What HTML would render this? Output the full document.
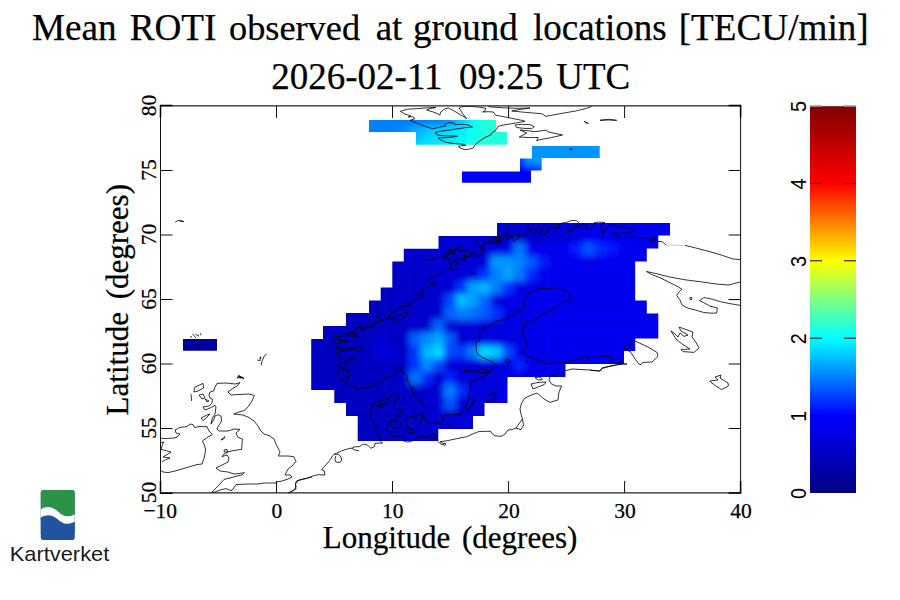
<!DOCTYPE html>
<html><head><meta charset="utf-8">
<style>
html,body{margin:0;padding:0;background:#fff;}
body{width:900px;height:600px;overflow:hidden;position:relative;font-family:"Liberation Serif",serif;}
svg{position:absolute;left:0;top:0;}
text{font-family:"Liberation Serif",serif;fill:#000;stroke:#000;stroke-width:0.25px;}
text.sans{font-family:"Liberation Sans",sans-serif;stroke:none;}
</style></head><body>
<svg width="900" height="600" viewBox="0 0 900 600">
<defs>
<linearGradient id="jet" x1="0" y1="1" x2="0" y2="0">
<stop offset="0" stop-color="#000083"/>
<stop offset="0.2" stop-color="#0000ff"/>
<stop offset="0.4" stop-color="#00ffff"/>
<stop offset="0.6" stop-color="#ffff00"/>
<stop offset="0.8" stop-color="#ff0000"/>
<stop offset="1" stop-color="#800000"/>
</linearGradient>
<clipPath id="mk"><path d="M311.2 339.0 L323.0 339.0 L323.0 326.0 L346.0 326.0 L346.0 313.0 L369.0 313.0 L369.0 300.5 L380.7 300.5 L380.7 287.5 L392.3 287.5 L392.3 261.5 L403.8 261.5 L403.8 248.7 L438.5 248.7 L438.5 236.0 L497.0 236.0 L497.0 223.0 L670.0 223.0 L670.0 235.5 L658.3 235.5 L658.3 248.5 L646.8 248.5 L646.8 261.5 L635.2 261.5 L635.2 300.5 L646.8 300.5 L646.8 313.5 L658.3 313.5 L658.3 338.5 L635.2 338.5 L635.2 351.0 L624.0 351.0 L624.0 364.0 L565.5 364.0 L565.5 377.0 L507.5 377.0 L507.5 403.0 L484.5 403.0 L484.5 416.0 L473.0 416.0 L473.0 429.0 L438.3 429.0 L438.3 441.0 L357.7 441.0 L357.7 416.0 L346.0 416.0 L346.0 403.0 L334.3 403.0 L334.3 390.0 L311.2 390.0Z M369.0 120.0 L496.0 120.0 L496.0 132.0 L507.0 132.0 L507.0 144.7 L416.0 144.7 L416.0 132.0 L369.0 132.0Z M532.0 146.0 L599.7 146.0 L599.7 158.0 L541.7 158.0 L541.7 170.5 L531.0 170.5 L531.0 182.8 L462.0 182.8 L462.0 171.5 L520.0 171.5 L520.0 158.5 L532.0 158.5Z M183.0 339.0 L217.0 339.0 L217.0 350.8 L183.0 350.8Z"/></clipPath>
<filter id="bl" x="-5%" y="-5%" width="110%" height="110%"><feGaussianBlur stdDeviation="3.0 3.3"/></filter>
</defs>
<rect width="900" height="600" fill="#fff"/>
<g id="title"><text x="32.0" y="40" font-size="37.2">Mean</text>
<text x="129.7" y="40" font-size="37.2">ROTI</text>
<text x="229.0" y="40" font-size="36.3">observed</text>
<text x="375.7" y="40" font-size="37">at</text>
<text x="413.0" y="40" font-size="37">ground</text>
<text x="533.0" y="40" font-size="37">locations</text>
<text x="678.7" y="40" font-size="37.2">[TECU/min]</text>
<text x="271.3" y="89" font-size="37">2026-02-11</text>
<text x="459.0" y="89" font-size="37">09:25</text>
<text x="556.3" y="89" font-size="37">UTC</text></g>
<g id="heat"><g clip-path="url(#mk)"><g filter="url(#bl)"><rect x="212.6" y="486.5" width="174.2" height="13.5" fill="#0000c1"/><rect x="386.2" y="486.5" width="12.2" height="13.5" fill="#0000c4"/><rect x="397.7" y="486.5" width="12.2" height="13.5" fill="#0000c7"/><rect x="409.3" y="486.5" width="12.2" height="13.5" fill="#0000ca"/><rect x="420.9" y="486.5" width="12.2" height="13.5" fill="#0000cd"/><rect x="432.4" y="486.5" width="12.2" height="13.5" fill="#0000d0"/><rect x="444.0" y="486.5" width="12.2" height="13.5" fill="#0000d3"/><rect x="455.6" y="486.5" width="12.2" height="13.5" fill="#0000d6"/><rect x="467.1" y="486.5" width="12.2" height="13.5" fill="#0000d9"/><rect x="478.7" y="486.5" width="12.2" height="13.5" fill="#0000dc"/><rect x="490.3" y="486.5" width="12.2" height="13.5" fill="#0000df"/><rect x="501.9" y="486.5" width="12.2" height="13.5" fill="#0000e2"/><rect x="513.4" y="486.5" width="12.2" height="13.5" fill="#0000e5"/><rect x="525.0" y="486.5" width="12.2" height="13.5" fill="#0000e8"/><rect x="536.6" y="486.5" width="12.2" height="13.5" fill="#0000eb"/><rect x="548.1" y="486.5" width="197.3" height="13.5" fill="#0000ee"/><rect x="212.6" y="473.7" width="174.2" height="13.5" fill="#0000c1"/><rect x="386.2" y="473.7" width="12.2" height="13.5" fill="#0000c4"/><rect x="397.7" y="473.7" width="12.2" height="13.5" fill="#0000c7"/><rect x="409.3" y="473.7" width="12.2" height="13.5" fill="#0000ca"/><rect x="420.9" y="473.7" width="12.2" height="13.5" fill="#0000cd"/><rect x="432.4" y="473.7" width="12.2" height="13.5" fill="#0000d0"/><rect x="444.0" y="473.7" width="12.2" height="13.5" fill="#0000d3"/><rect x="455.6" y="473.7" width="12.2" height="13.5" fill="#0000d6"/><rect x="467.1" y="473.7" width="12.2" height="13.5" fill="#0000d9"/><rect x="478.7" y="473.7" width="12.2" height="13.5" fill="#0000dc"/><rect x="490.3" y="473.7" width="12.2" height="13.5" fill="#0000df"/><rect x="501.9" y="473.7" width="12.2" height="13.5" fill="#0000e2"/><rect x="513.4" y="473.7" width="12.2" height="13.5" fill="#0000e5"/><rect x="525.0" y="473.7" width="12.2" height="13.5" fill="#0000e8"/><rect x="536.6" y="473.7" width="12.2" height="13.5" fill="#0000eb"/><rect x="548.1" y="473.7" width="197.3" height="13.5" fill="#0000ee"/><rect x="212.6" y="460.8" width="174.2" height="13.5" fill="#0000c1"/><rect x="386.2" y="460.8" width="12.2" height="13.5" fill="#0000c4"/><rect x="397.7" y="460.8" width="12.2" height="13.5" fill="#0000c7"/><rect x="409.3" y="460.8" width="12.2" height="13.5" fill="#0000ca"/><rect x="420.9" y="460.8" width="12.2" height="13.5" fill="#0000cd"/><rect x="432.4" y="460.8" width="12.2" height="13.5" fill="#0000d0"/><rect x="444.0" y="460.8" width="12.2" height="13.5" fill="#0000d3"/><rect x="455.6" y="460.8" width="12.2" height="13.5" fill="#0000d6"/><rect x="467.1" y="460.8" width="12.2" height="13.5" fill="#0000d9"/><rect x="478.7" y="460.8" width="12.2" height="13.5" fill="#0000dc"/><rect x="490.3" y="460.8" width="12.2" height="13.5" fill="#0000df"/><rect x="501.9" y="460.8" width="12.2" height="13.5" fill="#0000e2"/><rect x="513.4" y="460.8" width="12.2" height="13.5" fill="#0000e5"/><rect x="525.0" y="460.8" width="12.2" height="13.5" fill="#0000e8"/><rect x="536.6" y="460.8" width="12.2" height="13.5" fill="#0000eb"/><rect x="548.1" y="460.8" width="197.3" height="13.5" fill="#0000ee"/><rect x="212.6" y="447.9" width="174.2" height="13.5" fill="#0000c1"/><rect x="386.2" y="447.9" width="12.2" height="13.5" fill="#0000c4"/><rect x="397.7" y="447.9" width="12.2" height="13.5" fill="#0000c7"/><rect x="409.3" y="447.9" width="12.2" height="13.5" fill="#0000ca"/><rect x="420.9" y="447.9" width="12.2" height="13.5" fill="#0000cd"/><rect x="432.4" y="447.9" width="12.2" height="13.5" fill="#0000d0"/><rect x="444.0" y="447.9" width="12.2" height="13.5" fill="#0000d3"/><rect x="455.6" y="447.9" width="12.2" height="13.5" fill="#0000d6"/><rect x="467.1" y="447.9" width="12.2" height="13.5" fill="#0000d9"/><rect x="478.7" y="447.9" width="12.2" height="13.5" fill="#0000dc"/><rect x="490.3" y="447.9" width="12.2" height="13.5" fill="#0000df"/><rect x="501.9" y="447.9" width="12.2" height="13.5" fill="#0000e2"/><rect x="513.4" y="447.9" width="12.2" height="13.5" fill="#0000e5"/><rect x="525.0" y="447.9" width="12.2" height="13.5" fill="#0000e8"/><rect x="536.6" y="447.9" width="12.2" height="13.5" fill="#0000eb"/><rect x="548.1" y="447.9" width="197.3" height="13.5" fill="#0000ee"/><rect x="212.6" y="435.1" width="174.2" height="13.5" fill="#0000c1"/><rect x="386.2" y="435.1" width="12.2" height="13.5" fill="#0000c4"/><rect x="397.7" y="435.1" width="12.2" height="13.5" fill="#0000c7"/><rect x="409.3" y="435.1" width="12.2" height="13.5" fill="#0000ca"/><rect x="420.9" y="435.1" width="12.2" height="13.5" fill="#0000cd"/><rect x="432.4" y="435.1" width="12.2" height="13.5" fill="#0000d0"/><rect x="444.0" y="435.1" width="12.2" height="13.5" fill="#0000d3"/><rect x="455.6" y="435.1" width="12.2" height="13.5" fill="#0000d6"/><rect x="467.1" y="435.1" width="12.2" height="13.5" fill="#0000d9"/><rect x="478.7" y="435.1" width="12.2" height="13.5" fill="#0000dc"/><rect x="490.3" y="435.1" width="12.2" height="13.5" fill="#0000df"/><rect x="501.9" y="435.1" width="12.2" height="13.5" fill="#0000e2"/><rect x="513.4" y="435.1" width="12.2" height="13.5" fill="#0000e5"/><rect x="525.0" y="435.1" width="12.2" height="13.5" fill="#0000e8"/><rect x="536.6" y="435.1" width="12.2" height="13.5" fill="#0000eb"/><rect x="548.1" y="435.1" width="197.3" height="13.5" fill="#0000ee"/><rect x="154.8" y="422.2" width="70.0" height="13.5" fill="#00009e"/><rect x="224.2" y="422.2" width="162.6" height="13.5" fill="#0000c1"/><rect x="386.2" y="422.2" width="12.2" height="13.5" fill="#0000c4"/><rect x="397.7" y="422.2" width="12.2" height="13.5" fill="#0000c7"/><rect x="409.3" y="422.2" width="12.2" height="13.5" fill="#0000ca"/><rect x="420.9" y="422.2" width="12.2" height="13.5" fill="#0000cd"/><rect x="432.4" y="422.2" width="12.2" height="13.5" fill="#0000d0"/><rect x="444.0" y="422.2" width="12.2" height="13.5" fill="#0000d3"/><rect x="455.6" y="422.2" width="12.2" height="13.5" fill="#0000d6"/><rect x="467.1" y="422.2" width="12.2" height="13.5" fill="#0000d9"/><rect x="478.7" y="422.2" width="12.2" height="13.5" fill="#0000dc"/><rect x="490.3" y="422.2" width="12.2" height="13.5" fill="#0000df"/><rect x="501.9" y="422.2" width="12.2" height="13.5" fill="#0000e2"/><rect x="513.4" y="422.2" width="12.2" height="13.5" fill="#0000e5"/><rect x="525.0" y="422.2" width="12.2" height="13.5" fill="#0000e8"/><rect x="536.6" y="422.2" width="12.2" height="13.5" fill="#0000eb"/><rect x="548.1" y="422.2" width="197.3" height="13.5" fill="#0000ee"/><rect x="154.8" y="409.3" width="81.6" height="13.5" fill="#00009e"/><rect x="235.7" y="409.3" width="151.0" height="13.5" fill="#0000c1"/><rect x="386.2" y="409.3" width="12.2" height="13.5" fill="#0000c4"/><rect x="397.7" y="409.3" width="12.2" height="13.5" fill="#0000c7"/><rect x="409.3" y="409.3" width="12.2" height="13.5" fill="#0000ca"/><rect x="420.9" y="409.3" width="12.2" height="13.5" fill="#0000cd"/><rect x="432.4" y="409.3" width="12.2" height="13.5" fill="#0000d0"/><rect x="444.0" y="409.3" width="12.2" height="13.5" fill="#0000d3"/><rect x="455.6" y="409.3" width="12.2" height="13.5" fill="#0000d6"/><rect x="467.1" y="409.3" width="12.2" height="13.5" fill="#0000d9"/><rect x="478.7" y="409.3" width="12.2" height="13.5" fill="#0000dc"/><rect x="490.3" y="409.3" width="12.2" height="13.5" fill="#0000df"/><rect x="501.9" y="409.3" width="12.2" height="13.5" fill="#0000e2"/><rect x="513.4" y="409.3" width="12.2" height="13.5" fill="#0000e5"/><rect x="525.0" y="409.3" width="12.2" height="13.5" fill="#0000e8"/><rect x="536.6" y="409.3" width="12.2" height="13.5" fill="#0000eb"/><rect x="548.1" y="409.3" width="197.3" height="13.5" fill="#0000ee"/><rect x="154.8" y="396.4" width="81.6" height="13.5" fill="#00009e"/><rect x="235.7" y="396.4" width="151.0" height="13.5" fill="#0000c1"/><rect x="386.2" y="396.4" width="12.2" height="13.5" fill="#0000c4"/><rect x="397.7" y="396.4" width="12.2" height="13.5" fill="#0000c7"/><rect x="409.3" y="396.4" width="12.2" height="13.5" fill="#0000ca"/><rect x="420.9" y="396.4" width="12.2" height="13.5" fill="#0000cd"/><rect x="432.4" y="396.4" width="12.2" height="13.5" fill="#0000d0"/><rect x="444.0" y="396.4" width="12.2" height="13.5" fill="#0054ff"/><rect x="455.6" y="396.4" width="12.2" height="13.5" fill="#0000d6"/><rect x="467.1" y="396.4" width="12.2" height="13.5" fill="#0000d9"/><rect x="478.7" y="396.4" width="12.2" height="13.5" fill="#0000dc"/><rect x="490.3" y="396.4" width="12.2" height="13.5" fill="#0000df"/><rect x="501.9" y="396.4" width="12.2" height="13.5" fill="#0000e2"/><rect x="513.4" y="396.4" width="12.2" height="13.5" fill="#0000e5"/><rect x="525.0" y="396.4" width="12.2" height="13.5" fill="#0000e8"/><rect x="536.6" y="396.4" width="12.2" height="13.5" fill="#0000eb"/><rect x="548.1" y="396.4" width="197.3" height="13.5" fill="#0000ee"/><rect x="154.8" y="383.6" width="93.2" height="13.5" fill="#00009e"/><rect x="247.3" y="383.6" width="139.4" height="13.5" fill="#0000c1"/><rect x="386.2" y="383.6" width="12.2" height="13.5" fill="#0000c4"/><rect x="397.7" y="383.6" width="12.2" height="13.5" fill="#0000c7"/><rect x="409.3" y="383.6" width="12.2" height="13.5" fill="#0000ca"/><rect x="420.9" y="383.6" width="12.2" height="13.5" fill="#0000cd"/><rect x="432.4" y="383.6" width="12.2" height="13.5" fill="#0000d0"/><rect x="444.0" y="383.6" width="12.2" height="13.5" fill="#007eff"/><rect x="455.6" y="383.6" width="12.2" height="13.5" fill="#002aff"/><rect x="467.1" y="383.6" width="12.2" height="13.5" fill="#0000d9"/><rect x="478.7" y="383.6" width="12.2" height="13.5" fill="#0000dc"/><rect x="490.3" y="383.6" width="12.2" height="13.5" fill="#0000df"/><rect x="501.9" y="383.6" width="12.2" height="13.5" fill="#0000e2"/><rect x="513.4" y="383.6" width="12.2" height="13.5" fill="#0000e5"/><rect x="525.0" y="383.6" width="12.2" height="13.5" fill="#0000e8"/><rect x="536.6" y="383.6" width="12.2" height="13.5" fill="#0000eb"/><rect x="548.1" y="383.6" width="197.3" height="13.5" fill="#0000ee"/><rect x="154.8" y="370.7" width="93.2" height="13.5" fill="#00009e"/><rect x="247.3" y="370.7" width="139.4" height="13.5" fill="#0000c1"/><rect x="386.2" y="370.7" width="12.2" height="13.5" fill="#0000c4"/><rect x="397.7" y="370.7" width="12.2" height="13.5" fill="#0000c7"/><rect x="409.3" y="370.7" width="12.2" height="13.5" fill="#0072ff"/><rect x="420.9" y="370.7" width="12.2" height="13.5" fill="#002aff"/><rect x="432.4" y="370.7" width="12.2" height="13.5" fill="#0000d0"/><rect x="444.0" y="370.7" width="12.2" height="13.5" fill="#0024ff"/><rect x="455.6" y="370.7" width="12.2" height="13.5" fill="#0000d6"/><rect x="467.1" y="370.7" width="12.2" height="13.5" fill="#0000d9"/><rect x="478.7" y="370.7" width="12.2" height="13.5" fill="#0000dc"/><rect x="490.3" y="370.7" width="12.2" height="13.5" fill="#0000df"/><rect x="501.9" y="370.7" width="12.2" height="13.5" fill="#0000e2"/><rect x="513.4" y="370.7" width="12.2" height="13.5" fill="#0000e5"/><rect x="525.0" y="370.7" width="12.2" height="13.5" fill="#0000e8"/><rect x="536.6" y="370.7" width="12.2" height="13.5" fill="#0000eb"/><rect x="548.1" y="370.7" width="197.3" height="13.5" fill="#0000ee"/><rect x="154.8" y="357.8" width="104.7" height="13.5" fill="#00009e"/><rect x="258.9" y="357.8" width="127.9" height="13.5" fill="#0000c1"/><rect x="386.2" y="357.8" width="12.2" height="13.5" fill="#0000c4"/><rect x="397.7" y="357.8" width="12.2" height="13.5" fill="#0000c7"/><rect x="409.3" y="357.8" width="12.2" height="13.5" fill="#0036ff"/><rect x="420.9" y="357.8" width="12.2" height="13.5" fill="#008aff"/><rect x="432.4" y="357.8" width="12.2" height="13.5" fill="#0048ff"/><rect x="444.0" y="357.8" width="12.2" height="13.5" fill="#0000d3"/><rect x="455.6" y="357.8" width="12.2" height="13.5" fill="#0000d6"/><rect x="467.1" y="357.8" width="12.2" height="13.5" fill="#0000d9"/><rect x="478.7" y="357.8" width="12.2" height="13.5" fill="#0000dc"/><rect x="490.3" y="357.8" width="12.2" height="13.5" fill="#0000df"/><rect x="501.9" y="357.8" width="12.2" height="13.5" fill="#0000e2"/><rect x="513.4" y="357.8" width="12.2" height="13.5" fill="#0024ff"/><rect x="525.0" y="357.8" width="12.2" height="13.5" fill="#0000e8"/><rect x="536.6" y="357.8" width="12.2" height="13.5" fill="#0000eb"/><rect x="548.1" y="357.8" width="197.3" height="13.5" fill="#0000ee"/><rect x="154.8" y="345.0" width="104.7" height="13.5" fill="#00009e"/><rect x="258.9" y="345.0" width="116.3" height="13.5" fill="#0000c1"/><rect x="374.6" y="345.0" width="12.2" height="13.5" fill="#0000dc"/><rect x="386.2" y="345.0" width="12.2" height="13.5" fill="#0000d5"/><rect x="397.7" y="345.0" width="12.2" height="13.5" fill="#0000c7"/><rect x="409.3" y="345.0" width="12.2" height="13.5" fill="#0036ff"/><rect x="420.9" y="345.0" width="12.2" height="13.5" fill="#00b4ff"/><rect x="432.4" y="345.0" width="12.2" height="13.5" fill="#00d8ff"/><rect x="444.0" y="345.0" width="12.2" height="13.5" fill="#0048ff"/><rect x="455.6" y="345.0" width="12.2" height="13.5" fill="#003cff"/><rect x="467.1" y="345.0" width="12.2" height="13.5" fill="#0078ff"/><rect x="478.7" y="345.0" width="12.2" height="13.5" fill="#00deff"/><rect x="490.3" y="345.0" width="12.2" height="13.5" fill="#00c6ff"/><rect x="501.9" y="345.0" width="12.2" height="13.5" fill="#0048ff"/><rect x="513.4" y="345.0" width="12.2" height="13.5" fill="#0000e5"/><rect x="525.0" y="345.0" width="12.2" height="13.5" fill="#0000e8"/><rect x="536.6" y="345.0" width="12.2" height="13.5" fill="#0000eb"/><rect x="548.1" y="345.0" width="197.3" height="13.5" fill="#0000ee"/><rect x="154.8" y="332.1" width="104.7" height="13.5" fill="#00009e"/><rect x="258.9" y="332.1" width="116.3" height="13.5" fill="#0000c1"/><rect x="374.6" y="332.1" width="12.2" height="13.5" fill="#0000d5"/><rect x="386.2" y="332.1" width="12.2" height="13.5" fill="#0000c4"/><rect x="397.7" y="332.1" width="12.2" height="13.5" fill="#0000c7"/><rect x="409.3" y="332.1" width="12.2" height="13.5" fill="#0060ff"/><rect x="420.9" y="332.1" width="12.2" height="13.5" fill="#008aff"/><rect x="432.4" y="332.1" width="12.2" height="13.5" fill="#00a8ff"/><rect x="444.0" y="332.1" width="12.2" height="13.5" fill="#005aff"/><rect x="455.6" y="332.1" width="12.2" height="13.5" fill="#0000d6"/><rect x="467.1" y="332.1" width="12.2" height="13.5" fill="#0000d9"/><rect x="478.7" y="332.1" width="12.2" height="13.5" fill="#0000dc"/><rect x="490.3" y="332.1" width="12.2" height="13.5" fill="#0000df"/><rect x="501.9" y="332.1" width="12.2" height="13.5" fill="#0000e2"/><rect x="513.4" y="332.1" width="12.2" height="13.5" fill="#0000e5"/><rect x="525.0" y="332.1" width="12.2" height="13.5" fill="#0000e8"/><rect x="536.6" y="332.1" width="12.2" height="13.5" fill="#0000eb"/><rect x="548.1" y="332.1" width="197.3" height="13.5" fill="#0000ee"/><rect x="154.8" y="319.2" width="104.7" height="13.5" fill="#00009e"/><rect x="258.9" y="319.2" width="127.9" height="13.5" fill="#0000c1"/><rect x="386.2" y="319.2" width="12.2" height="13.5" fill="#0000c4"/><rect x="397.7" y="319.2" width="12.2" height="13.5" fill="#0000c7"/><rect x="409.3" y="319.2" width="12.2" height="13.5" fill="#0000ca"/><rect x="420.9" y="319.2" width="12.2" height="13.5" fill="#0000cd"/><rect x="432.4" y="319.2" width="12.2" height="13.5" fill="#0066ff"/><rect x="444.0" y="319.2" width="12.2" height="13.5" fill="#0000d3"/><rect x="455.6" y="319.2" width="12.2" height="13.5" fill="#0000d6"/><rect x="467.1" y="319.2" width="12.2" height="13.5" fill="#0000d9"/><rect x="478.7" y="319.2" width="12.2" height="13.5" fill="#0000dc"/><rect x="490.3" y="319.2" width="12.2" height="13.5" fill="#0000df"/><rect x="501.9" y="319.2" width="12.2" height="13.5" fill="#0000e2"/><rect x="513.4" y="319.2" width="12.2" height="13.5" fill="#0000e5"/><rect x="525.0" y="319.2" width="12.2" height="13.5" fill="#0000e8"/><rect x="536.6" y="319.2" width="12.2" height="13.5" fill="#0000eb"/><rect x="548.1" y="319.2" width="197.3" height="13.5" fill="#0000ee"/><rect x="154.8" y="306.4" width="93.2" height="13.5" fill="#00009e"/><rect x="247.3" y="306.4" width="139.4" height="13.5" fill="#0000c1"/><rect x="386.2" y="306.4" width="12.2" height="13.5" fill="#0000c4"/><rect x="397.7" y="306.4" width="12.2" height="13.5" fill="#0000c7"/><rect x="409.3" y="306.4" width="12.2" height="13.5" fill="#0000ca"/><rect x="420.9" y="306.4" width="12.2" height="13.5" fill="#0000cd"/><rect x="432.4" y="306.4" width="12.2" height="13.5" fill="#0000d0"/><rect x="444.0" y="306.4" width="12.2" height="13.5" fill="#0060ff"/><rect x="455.6" y="306.4" width="12.2" height="13.5" fill="#007eff"/><rect x="467.1" y="306.4" width="12.2" height="13.5" fill="#0072ff"/><rect x="478.7" y="306.4" width="12.2" height="13.5" fill="#005aff"/><rect x="490.3" y="306.4" width="12.2" height="13.5" fill="#0030ff"/><rect x="501.9" y="306.4" width="12.2" height="13.5" fill="#0000e2"/><rect x="513.4" y="306.4" width="12.2" height="13.5" fill="#0000e5"/><rect x="525.0" y="306.4" width="12.2" height="13.5" fill="#0000e8"/><rect x="536.6" y="306.4" width="12.2" height="13.5" fill="#0000eb"/><rect x="548.1" y="306.4" width="197.3" height="13.5" fill="#0000ee"/><rect x="154.8" y="293.5" width="93.2" height="13.5" fill="#00009e"/><rect x="247.3" y="293.5" width="139.4" height="13.5" fill="#0000c1"/><rect x="386.2" y="293.5" width="12.2" height="13.5" fill="#0000c4"/><rect x="397.7" y="293.5" width="12.2" height="13.5" fill="#0000c7"/><rect x="409.3" y="293.5" width="12.2" height="13.5" fill="#0000ca"/><rect x="420.9" y="293.5" width="12.2" height="13.5" fill="#0000cd"/><rect x="432.4" y="293.5" width="12.2" height="13.5" fill="#0000d0"/><rect x="444.0" y="293.5" width="12.2" height="13.5" fill="#0042ff"/><rect x="455.6" y="293.5" width="12.2" height="13.5" fill="#00c0ff"/><rect x="467.1" y="293.5" width="12.2" height="13.5" fill="#009cff"/><rect x="478.7" y="293.5" width="12.2" height="13.5" fill="#0066ff"/><rect x="490.3" y="293.5" width="12.2" height="13.5" fill="#0000df"/><rect x="501.9" y="293.5" width="12.2" height="13.5" fill="#0000e2"/><rect x="513.4" y="293.5" width="12.2" height="13.5" fill="#0000e5"/><rect x="525.0" y="293.5" width="12.2" height="13.5" fill="#0000e8"/><rect x="536.6" y="293.5" width="12.2" height="13.5" fill="#0000eb"/><rect x="548.1" y="293.5" width="197.3" height="13.5" fill="#0000ee"/><rect x="154.8" y="280.6" width="81.6" height="13.5" fill="#00009e"/><rect x="235.7" y="280.6" width="151.0" height="13.5" fill="#0000c1"/><rect x="386.2" y="280.6" width="12.2" height="13.5" fill="#0000c4"/><rect x="397.7" y="280.6" width="12.2" height="13.5" fill="#0000c7"/><rect x="409.3" y="280.6" width="12.2" height="13.5" fill="#0000ca"/><rect x="420.9" y="280.6" width="12.2" height="13.5" fill="#0000cd"/><rect x="432.4" y="280.6" width="12.2" height="13.5" fill="#0000d0"/><rect x="444.0" y="280.6" width="12.2" height="13.5" fill="#0000d3"/><rect x="455.6" y="280.6" width="12.2" height="13.5" fill="#0030ff"/><rect x="467.1" y="280.6" width="12.2" height="13.5" fill="#00a2ff"/><rect x="478.7" y="280.6" width="12.2" height="13.5" fill="#00b4ff"/><rect x="490.3" y="280.6" width="12.2" height="13.5" fill="#007eff"/><rect x="501.9" y="280.6" width="12.2" height="13.5" fill="#0030ff"/><rect x="513.4" y="280.6" width="12.2" height="13.5" fill="#0000e5"/><rect x="525.0" y="280.6" width="12.2" height="13.5" fill="#0000e8"/><rect x="536.6" y="280.6" width="12.2" height="13.5" fill="#0000eb"/><rect x="548.1" y="280.6" width="197.3" height="13.5" fill="#0000ee"/><rect x="154.8" y="267.7" width="81.6" height="13.5" fill="#00009e"/><rect x="235.7" y="267.7" width="151.0" height="13.5" fill="#0000c3"/><rect x="386.2" y="267.7" width="12.2" height="13.5" fill="#0000c6"/><rect x="397.7" y="267.7" width="12.2" height="13.5" fill="#0000c8"/><rect x="409.3" y="267.7" width="12.2" height="13.5" fill="#0000cb"/><rect x="420.9" y="267.7" width="12.2" height="13.5" fill="#0000ce"/><rect x="432.4" y="267.7" width="12.2" height="13.5" fill="#0000d1"/><rect x="444.0" y="267.7" width="12.2" height="13.5" fill="#0000d3"/><rect x="455.6" y="267.7" width="12.2" height="13.5" fill="#0000d6"/><rect x="467.1" y="267.7" width="12.2" height="13.5" fill="#0000d9"/><rect x="478.7" y="267.7" width="12.2" height="13.5" fill="#0036ff"/><rect x="490.3" y="267.7" width="12.2" height="13.5" fill="#007eff"/><rect x="501.9" y="267.7" width="12.2" height="13.5" fill="#00a2ff"/><rect x="513.4" y="267.7" width="12.2" height="13.5" fill="#0078ff"/><rect x="525.0" y="267.7" width="12.2" height="13.5" fill="#002aff"/><rect x="536.6" y="267.7" width="12.2" height="13.5" fill="#0000eb"/><rect x="548.1" y="267.7" width="197.3" height="13.5" fill="#0000ee"/><rect x="154.8" y="254.9" width="70.0" height="13.5" fill="#00009e"/><rect x="224.2" y="254.9" width="162.6" height="13.5" fill="#0000c4"/><rect x="386.2" y="254.9" width="12.2" height="13.5" fill="#0000c7"/><rect x="397.7" y="254.9" width="12.2" height="13.5" fill="#0000ca"/><rect x="409.3" y="254.9" width="12.2" height="13.5" fill="#0000cc"/><rect x="420.9" y="254.9" width="12.2" height="13.5" fill="#0000cf"/><rect x="432.4" y="254.9" width="12.2" height="13.5" fill="#0000d1"/><rect x="444.0" y="254.9" width="12.2" height="13.5" fill="#0000d4"/><rect x="455.6" y="254.9" width="12.2" height="13.5" fill="#0000d7"/><rect x="467.1" y="254.9" width="12.2" height="13.5" fill="#0000d9"/><rect x="478.7" y="254.9" width="12.2" height="13.5" fill="#0000dc"/><rect x="490.3" y="254.9" width="23.7" height="13.5" fill="#0096ff"/><rect x="513.4" y="254.9" width="12.2" height="13.5" fill="#0084ff"/><rect x="525.0" y="254.9" width="12.2" height="13.5" fill="#005aff"/><rect x="536.6" y="254.9" width="12.2" height="13.5" fill="#001eff"/><rect x="548.1" y="254.9" width="197.3" height="13.5" fill="#0000ee"/><rect x="212.6" y="242.0" width="174.2" height="13.5" fill="#0000c6"/><rect x="386.2" y="242.0" width="12.2" height="13.5" fill="#0000c9"/><rect x="397.7" y="242.0" width="12.2" height="13.5" fill="#0000cb"/><rect x="409.3" y="242.0" width="12.2" height="13.5" fill="#0000cd"/><rect x="420.9" y="242.0" width="12.2" height="13.5" fill="#0000d0"/><rect x="432.4" y="242.0" width="12.2" height="13.5" fill="#0000d2"/><rect x="444.0" y="242.0" width="12.2" height="13.5" fill="#0000d5"/><rect x="455.6" y="242.0" width="12.2" height="13.5" fill="#0000d7"/><rect x="467.1" y="242.0" width="12.2" height="13.5" fill="#0000d9"/><rect x="478.7" y="242.0" width="12.2" height="13.5" fill="#0000dc"/><rect x="490.3" y="242.0" width="12.2" height="13.5" fill="#0000df"/><rect x="501.9" y="242.0" width="12.2" height="13.5" fill="#0000e2"/><rect x="513.4" y="242.0" width="12.2" height="13.5" fill="#0078ff"/><rect x="525.0" y="242.0" width="12.2" height="13.5" fill="#0000e8"/><rect x="536.6" y="242.0" width="12.2" height="13.5" fill="#0000eb"/><rect x="548.1" y="242.0" width="23.7" height="13.5" fill="#0000ee"/><rect x="571.3" y="242.0" width="12.2" height="13.5" fill="#001eff"/><rect x="582.8" y="242.0" width="12.2" height="13.5" fill="#0054ff"/><rect x="594.4" y="242.0" width="12.2" height="13.5" fill="#002aff"/><rect x="606.0" y="242.0" width="12.2" height="13.5" fill="#0018ff"/><rect x="617.6" y="242.0" width="127.9" height="13.5" fill="#0000ee"/><rect x="212.6" y="229.1" width="174.2" height="13.5" fill="#0000c7"/><rect x="386.2" y="229.1" width="12.2" height="13.5" fill="#0000ca"/><rect x="397.7" y="229.1" width="12.2" height="13.5" fill="#0000cc"/><rect x="409.3" y="229.1" width="151.0" height="13.5" fill="#0000cd"/><rect x="559.7" y="229.1" width="23.7" height="13.5" fill="#0000da"/><rect x="582.8" y="229.1" width="162.6" height="13.5" fill="#0000ee"/><rect x="212.6" y="216.3" width="174.2" height="13.5" fill="#0000c7"/><rect x="386.2" y="216.3" width="12.2" height="13.5" fill="#0000ca"/><rect x="397.7" y="216.3" width="12.2" height="13.5" fill="#0000cc"/><rect x="409.3" y="216.3" width="151.0" height="13.5" fill="#0000cd"/><rect x="559.7" y="216.3" width="23.7" height="13.5" fill="#0000da"/><rect x="582.8" y="216.3" width="162.6" height="13.5" fill="#0000ee"/><rect x="212.6" y="203.4" width="174.2" height="13.5" fill="#0000c7"/><rect x="386.2" y="203.4" width="12.2" height="13.5" fill="#0000ca"/><rect x="397.7" y="203.4" width="12.2" height="13.5" fill="#0000cc"/><rect x="409.3" y="203.4" width="151.0" height="13.5" fill="#0000cd"/><rect x="559.7" y="203.4" width="23.7" height="13.5" fill="#0000da"/><rect x="582.8" y="203.4" width="162.6" height="13.5" fill="#0000ee"/><rect x="212.6" y="190.5" width="174.2" height="13.5" fill="#0000c7"/><rect x="386.2" y="190.5" width="12.2" height="13.5" fill="#0000ca"/><rect x="397.7" y="190.5" width="12.2" height="13.5" fill="#0000cc"/><rect x="409.3" y="190.5" width="23.7" height="13.5" fill="#0000cd"/><rect x="432.4" y="190.5" width="116.3" height="13.5" fill="#0000ff"/><rect x="548.1" y="190.5" width="12.2" height="13.5" fill="#0000cd"/><rect x="559.7" y="190.5" width="23.7" height="13.5" fill="#0000da"/><rect x="582.8" y="190.5" width="162.6" height="13.5" fill="#0000ee"/><rect x="212.6" y="177.7" width="174.2" height="13.5" fill="#0000c7"/><rect x="386.2" y="177.7" width="12.2" height="13.5" fill="#0000ca"/><rect x="397.7" y="177.7" width="12.2" height="13.5" fill="#0000cc"/><rect x="409.3" y="177.7" width="12.2" height="13.5" fill="#0000cd"/><rect x="420.9" y="177.7" width="116.3" height="13.5" fill="#0000ff"/><rect x="536.6" y="177.7" width="23.7" height="13.5" fill="#001aff"/><rect x="559.7" y="177.7" width="81.6" height="13.5" fill="#0080ff"/><rect x="640.7" y="177.7" width="104.7" height="13.5" fill="#0000ee"/><rect x="212.6" y="164.8" width="127.9" height="13.5" fill="#0000c7"/><rect x="339.9" y="164.8" width="46.9" height="13.5" fill="#0099ff"/><rect x="386.2" y="164.8" width="12.2" height="13.5" fill="#00b2ff"/><rect x="397.7" y="164.8" width="12.2" height="13.5" fill="#00c7ff"/><rect x="409.3" y="164.8" width="12.2" height="13.5" fill="#00d9ff"/><rect x="420.9" y="164.8" width="116.3" height="13.5" fill="#0000ff"/><rect x="536.6" y="164.8" width="12.2" height="13.5" fill="#004dff"/><rect x="548.1" y="164.8" width="12.2" height="13.5" fill="#0073ff"/><rect x="559.7" y="164.8" width="104.7" height="13.5" fill="#0080ff"/><rect x="663.8" y="164.8" width="81.6" height="13.5" fill="#0000ee"/><rect x="224.2" y="151.9" width="93.2" height="13.5" fill="#0000c7"/><rect x="316.7" y="151.9" width="70.0" height="13.5" fill="#0099ff"/><rect x="386.2" y="151.9" width="12.2" height="13.5" fill="#00b2ff"/><rect x="397.7" y="151.9" width="12.2" height="13.5" fill="#00c7ff"/><rect x="409.3" y="151.9" width="12.2" height="13.5" fill="#00d9ff"/><rect x="420.9" y="151.9" width="12.2" height="13.5" fill="#00e5ff"/><rect x="432.4" y="151.9" width="81.6" height="13.5" fill="#0000ff"/><rect x="513.4" y="151.9" width="12.2" height="13.5" fill="#0033ff"/><rect x="525.0" y="151.9" width="151.0" height="13.5" fill="#0094ff"/><rect x="675.4" y="151.9" width="70.0" height="13.5" fill="#0000ee"/><rect x="235.7" y="139.0" width="70.0" height="13.5" fill="#0000c7"/><rect x="305.2" y="139.0" width="81.6" height="13.5" fill="#0099ff"/><rect x="386.2" y="139.0" width="12.2" height="13.5" fill="#00b2ff"/><rect x="397.7" y="139.0" width="12.2" height="13.5" fill="#00c7ff"/><rect x="409.3" y="139.0" width="12.2" height="13.5" fill="#00d9ff"/><rect x="420.9" y="139.0" width="12.2" height="13.5" fill="#00e5ff"/><rect x="432.4" y="139.0" width="12.2" height="13.5" fill="#00ebff"/><rect x="444.0" y="139.0" width="12.2" height="13.5" fill="#00f2ff"/><rect x="455.6" y="139.0" width="12.2" height="13.5" fill="#00ffff"/><rect x="467.1" y="139.0" width="12.2" height="13.5" fill="#14ffeb"/><rect x="478.7" y="139.0" width="46.9" height="13.5" fill="#21ffde"/><rect x="525.0" y="139.0" width="162.6" height="13.5" fill="#0094ff"/><rect x="687.0" y="139.0" width="58.5" height="13.5" fill="#0000ee"/><rect x="247.3" y="126.2" width="46.9" height="13.5" fill="#0000c7"/><rect x="293.6" y="126.2" width="104.7" height="13.5" fill="#0080ff"/><rect x="397.7" y="126.2" width="12.2" height="13.5" fill="#008cff"/><rect x="409.3" y="126.2" width="12.2" height="13.5" fill="#00b2ff"/><rect x="420.9" y="126.2" width="12.2" height="13.5" fill="#00ccff"/><rect x="432.4" y="126.2" width="12.2" height="13.5" fill="#00d9ff"/><rect x="444.0" y="126.2" width="12.2" height="13.5" fill="#00e5ff"/><rect x="455.6" y="126.2" width="12.2" height="13.5" fill="#00f2ff"/><rect x="467.1" y="126.2" width="12.2" height="13.5" fill="#0dfff2"/><rect x="478.7" y="126.2" width="46.9" height="13.5" fill="#21ffde"/><rect x="525.0" y="126.2" width="174.1" height="13.5" fill="#0094ff"/><rect x="698.5" y="126.2" width="35.3" height="13.5" fill="#0000ee"/><rect x="282.0" y="113.3" width="151.0" height="13.5" fill="#0080ff"/><rect x="432.4" y="113.3" width="12.2" height="13.5" fill="#0085ff"/><rect x="444.0" y="113.3" width="12.2" height="13.5" fill="#0099ff"/><rect x="455.6" y="113.3" width="12.2" height="13.5" fill="#00ccff"/><rect x="467.1" y="113.3" width="12.2" height="13.5" fill="#00ffff"/><rect x="478.7" y="113.3" width="58.5" height="13.5" fill="#21ffde"/><rect x="536.6" y="113.3" width="162.6" height="13.5" fill="#0094ff"/><rect x="282.0" y="100.4" width="151.0" height="13.5" fill="#0080ff"/><rect x="432.4" y="100.4" width="12.2" height="13.5" fill="#0085ff"/><rect x="444.0" y="100.4" width="12.2" height="13.5" fill="#0099ff"/><rect x="455.6" y="100.4" width="12.2" height="13.5" fill="#00ccff"/><rect x="467.1" y="100.4" width="12.2" height="13.5" fill="#00ffff"/><rect x="478.7" y="100.4" width="70.0" height="13.5" fill="#21ffde"/><rect x="548.1" y="100.4" width="151.0" height="13.5" fill="#0094ff"/></g></g></g>
<g id="coast" fill="none" stroke="#000" stroke-width="0.8" stroke-linejoin="round"><path d="M400.3 111.3L407.5 109.2L416.7 108.7L425.0 108.0L435.8 107.5L430.8 108.3L426.7 110.0L433.3 112.0L438.7 114.2L439.7 115.3L440.8 112.0L445.0 108.7L448.3 108.0L452.5 110.0L465.0 117.5L466.7 118.7L462.5 113.3L459.2 108.0L461.7 106.7L468.3 106.3L478.3 107.0L485.8 108.3L485.0 110.8L482.5 112.0L488.3 111.7L493.3 112.0L495.0 114.2L495.8 115.3L501.7 116.3L511.7 118.3L521.7 120.3L525.0 121.3L518.3 122.5L511.7 123.7L503.3 125.0L498.3 126.3L496.7 129.2L495.0 130.8L491.7 133.0L490.3 135.3L485.8 137.0L481.7 139.7L477.5 142.5L475.0 145.0L473.3 148.0L468.3 149.3L465.0 149.7L460.8 148.3L458.3 146.7L460.8 145.8L465.8 145.3L463.3 144.3L456.7 143.7L450.0 143.0L445.0 142.0L440.8 140.0L438.0 138.0L445.0 137.7L453.3 137.0L457.5 136.3L451.7 136.0L443.3 135.7L437.5 135.0L435.0 132.5L440.0 131.3L450.0 130.0L458.3 128.7L465.0 127.7L472.5 127.0L468.3 125.0L461.7 124.3L455.0 124.7L454.2 123.0L448.3 122.5L445.0 124.2L445.8 125.8L438.3 127.5L432.5 128.7L426.7 127.0L421.7 125.0L416.7 123.0L411.7 121.0L410.0 120.3L415.0 118.7L412.5 116.7L408.3 117.0L410.8 115.8L405.0 114.2Z"/>
<path d="M488.3 106.7L501.7 107.7L515.0 108.3L530.0 108.0L518.3 109.7L511.7 111.0L521.7 112.0L533.3 113.0L541.7 113.7L545.8 116.3L560.0 113.7L576.7 110.8L586.7 108.3L591.7 106.3"/>
<path d="M515.0 125.0L521.7 124.3L530.0 124.7L534.2 126.7L531.7 128.7L523.3 128.3L516.7 127.5Z"/>
<path d="M526.7 133.0L520.0 130.0L528.3 130.8L535.0 131.7L545.0 130.3L546.7 130.3L547.5 131.7L562.5 135.0L551.7 137.5L538.3 140.0L536.7 140.8L537.5 138.7L538.3 137.5L528.3 137.5L519.2 137.0L526.7 133.0"/>
<path d="M584.2 121.3L588.3 123.3L585.8 123.0Z"/>
<path d="M600.0 120.3L608.3 119.3L616.7 120.3L608.3 120.0Z"/>
<path d="M570.0 148.7L571.7 148.7L571.7 149.7L570.0 149.7Z"/>
<path d="M560.3 223.7L556.7 225.3L560.0 227.5L555.0 228.3L551.7 226.7L548.3 228.0L546.7 230.8L545.0 235.0L540.0 233.3L542.5 229.2L538.3 226.7L535.8 231.7L533.3 234.2L530.0 230.8L532.5 228.3L528.3 229.2L526.7 233.3L524.2 236.7L521.7 235.0L518.3 238.3L513.3 240.8L511.7 238.3L514.2 235.8L510.0 236.7L506.7 240.0L508.3 233.3L503.3 236.7L498.3 235.8L495.0 240.0L500.0 240.0L501.7 242.5L496.7 244.2L490.0 242.5L485.0 243.3L481.7 245.8L478.3 247.5L483.3 248.3L481.7 255.0L475.8 257.5L474.2 253.3L471.7 252.5L469.2 256.7L466.7 255.8L465.0 261.7L462.5 260.0L460.0 258.3L456.7 263.3L455.0 260.0L451.7 265.0L450.0 268.3L446.7 269.2L443.3 272.5L440.0 273.3"/>
<path d="M441.7 258.3L446.7 255.0L451.7 252.5L450.0 250.8L456.7 248.3L461.7 245.8"/>
<path d="M448.3 252.5L453.3 254.2L455.8 250.8L451.7 249.2"/>
<path d="M443.3 256.7L447.5 257.5L445.0 259.2"/>
<path d="M440.0 273.3L436.7 275.0L431.7 277.5L428.3 280.0L431.7 282.5L435.0 284.2L430.0 284.2L426.7 287.5L423.3 289.2L420.0 291.7L417.5 294.2L419.2 295.8L421.7 293.3L424.2 297.5L420.0 298.3L415.0 299.2L410.8 300.8L408.3 303.3L411.7 303.7L408.3 305.8L400.0 306.7L398.3 307.5L395.0 310.0L391.7 313.3L389.2 315.8L387.5 318.3L391.7 320.0L398.3 320.0L403.3 318.3L406.7 315.0L408.3 312.5L404.2 312.5L398.3 315.8L393.3 318.3L390.0 317.5L385.0 319.2L381.7 320.8L376.7 320.8L375.0 323.3L373.3 326.7L370.0 327.5L366.7 325.8L365.0 328.3L363.3 330.8L358.3 326.7L356.7 328.3L355.0 332.5L351.7 332.5L350.0 331.7"/>
<path d="M350.0 333.3L356.7 333.3L358.3 335.8L356.7 336.7L353.3 335.0"/>
<path d="M426.7 260.8L429.2 260.0"/>
<path d="M433.3 258.3L437.0 257.8"/>
<path d="M375.0 316.7L378.7 316.3"/>
<path d="M367.5 320.0L370.3 320.0"/>
<path d="M376.7 322.5L373.3 326.7L370.0 325.8L364.2 327.5L358.3 326.7L364.2 330.0L360.0 331.7L353.3 331.3L350.0 332.5L355.8 334.2L358.3 335.8L355.8 336.7L351.7 335.8L345.0 334.2L340.0 336.7L335.0 335.8L332.5 340.0L350.0 340.8L341.7 342.5L336.7 343.3L335.0 345.0L340.0 346.7L335.8 348.3L345.0 349.2L355.0 348.3L360.8 346.7L362.5 349.2L360.0 350.8L355.8 351.3L354.2 349.2L348.3 350.0L341.7 350.8L338.3 352.5L335.8 353.3L341.7 355.8L338.3 360.0L343.3 362.5L350.0 359.2L355.8 358.0L353.3 360.8L348.3 363.7L344.2 365.0L346.7 367.5L341.7 368.3L337.5 364.2L338.3 368.3L336.7 374.2L340.0 371.7L345.0 370.0L349.2 370.0L347.5 375.0L349.2 378.3L345.0 377.5L340.8 379.2L344.2 381.7L350.0 385.0L354.2 387.5L358.3 389.2L365.0 388.0L373.3 385.8L380.0 381.7L386.7 377.5L393.3 375.8L397.5 373.3L398.3 370.0L396.7 369.2L400.0 365.8L400.8 370.0L403.3 373.0L407.5 375.8L406.7 380.0L409.2 383.3L410.8 388.3L413.3 386.7L412.5 391.7L415.0 396.7L420.0 401.7L421.7 402.5L425.0 406.7L425.8 410.0L423.3 412.5L422.5 415.8L425.0 419.2L426.7 423.0L433.3 423.3L440.0 422.5L443.3 421.3L442.5 417.5L445.8 415.0L453.3 414.7L460.8 414.2L465.0 408.3L467.5 401.7L469.2 393.3L470.0 386.7L470.8 382.5L473.3 380.8"/>
<path d="M474.2 399.2L470.0 406.7L466.7 411.3L469.2 409.2L473.3 403.3L474.7 399.7Z"/>
<path d="M487.5 395.8L492.5 393.0L496.7 391.3L495.0 395.8L491.7 400.0L487.5 402.5L487.0 398.3Z"/>
<path d="M380.8 441.7L379.2 436.7L376.7 431.7L373.3 430.8L375.8 428.3L376.7 425.0L373.3 423.3L370.8 417.5L371.7 415.0L370.0 410.0L372.5 408.7L372.5 405.0L375.0 402.5L379.2 400.8L383.3 400.0L389.2 398.3L391.7 395.8L397.5 394.7L398.7 397.5L397.5 400.0L393.3 401.7L395.8 405.0L395.0 407.5L400.0 410.0L403.0 410.8L400.0 413.3L396.7 415.8L398.3 417.5L395.0 419.2L390.0 420.8L387.5 425.0L386.7 430.0L391.7 433.3L392.5 435.8L398.3 436.7L403.3 437.5L405.0 435.0L405.8 437.5L403.3 440.8"/>
<path d="M375.0 405.8L379.2 405.0L384.2 403.3L388.3 402.5L384.2 405.0L383.3 407.0L379.2 406.7Z"/>
<path d="M390.0 421.7L395.0 420.8L400.0 421.7L401.7 426.7L400.0 428.0L393.3 428.0L390.0 425.0Z"/>
<path d="M405.0 419.2L409.2 417.0L413.3 416.3L415.8 419.2L416.7 415.8L420.8 414.2L423.3 415.8L421.7 420.0L420.0 423.7L416.7 427.5L414.2 430.0L410.0 428.3L407.5 425.0L405.8 422.5Z"/>
<path d="M405.0 430.0L408.3 429.2L412.5 430.8L414.2 432.5L410.0 433.0L406.7 431.7Z"/>
<path d="M403.0 398.8L404.3 398.8L404.3 399.8L403.0 399.8Z"/>
<path d="M403.3 440.8L406.7 442.0L410.8 441.7L415.0 439.2L419.2 436.7L421.7 435.8L424.2 436.7L428.3 437.5L429.2 435.8L431.7 434.2L435.8 434.7L435.0 437.5L431.7 438.3L428.3 437.5"/>
<path d="M435.0 437.5L438.3 441.7L440.8 444.2L445.0 445.3L445.8 443.7L441.7 443.0L440.0 441.7L446.7 440.8L456.7 438.7L466.7 436.7L473.3 433.7L478.3 431.7L485.0 431.3L490.8 431.3L491.7 433.3L495.0 435.8L500.0 436.3"/>
<path d="M447.5 424.7L450.0 427.5L451.3 428.3L449.2 425.8Z"/>
<path d="M380.8 441.7L382.5 443.0L375.0 443.3L374.2 446.7L370.8 448.3L367.5 445.0L363.3 444.2L359.2 446.7L355.0 446.7L351.7 448.3L355.0 450.0L359.2 450.8"/>
<path d="M473.3 381.3L485.0 375.8L490.8 371.7L491.7 369.2L496.7 365.8L493.3 362.5L488.3 360.0L481.7 357.0L477.5 354.2L476.3 350.0L475.8 344.2L475.8 342.0L479.2 340.8L480.0 333.3L478.7 331.7L483.7 330.8L484.2 327.5L483.7 325.3L485.8 327.5L490.0 325.0L495.0 322.0L501.7 320.0L508.3 317.5L515.0 313.3L520.8 310.0L525.8 305.8L523.0 301.7L525.8 298.3L526.7 295.0L532.5 292.0L536.7 290.0L540.0 288.3L546.7 288.7L556.7 289.2L564.2 290.0L568.3 292.5L570.3 295.8L570.0 300.8L564.2 301.7L556.7 306.7L550.0 310.8L543.3 314.2L536.7 318.0L535.8 320.8L530.0 322.5L525.0 325.8L521.7 330.8L523.3 335.0L524.7 339.2L526.3 343.3L525.8 348.3L523.3 351.7L524.2 354.2L528.3 356.3L533.3 358.3L538.3 360.0L540.0 362.5L542.5 360.8L546.7 364.2L553.3 363.0L560.0 363.0L566.7 361.7L573.3 359.7L580.0 358.0L585.0 356.3L590.0 357.0"/>
<path d="M463.3 370.8L470.0 370.0L480.0 370.0L479.2 367.5L483.7 370.0L490.0 371.3L491.7 372.0L486.7 373.0L480.0 372.5L473.3 371.7Z"/>
<path d="M505.3 360.0L507.5 359.2L510.3 361.3L508.0 362.5L505.8 362.0Z"/>
<path d="M521.3 322.0L524.7 322.5"/>
<path d="M526.3 361.3L527.7 361.3L527.7 362.7L526.3 362.7Z"/>
<path d="M560.0 223.5L566.2 222.5L571.5 220.4L576.7 220.8L578.8 222.9L574.6 225.6L570.4 228.8L567.3 232.9L571.5 230.8L577.7 226.7L582.9 223.5L587.1 224.6L585.0 227.7L589.2 229.8L593.3 225.6L594.4 222.5L598.5 222.1L604.8 222.5L600.6 225.0L601.7 228.8L602.7 232.9L606.9 227.7L609.0 224.6L620.4 226.7L630.8 228.8L636.0 230.4L628.8 232.5L620.4 233.3L612.1 232.9L618.3 236.0L622.5 237.5L632.9 237.1L643.3 238.1L651.7 237.5L655.8 238.1L649.6 240.2L655.8 241.2L662.1 241.7L664.2 243.3L666.2 245.0"/>
<path d="M685.0 245.4L695.4 247.9L710.0 251.7L722.5 255.4L732.9 259.0L740.4 259.6"/>
<path d="M740.4 281.9L728.8 285.0L716.2 284.0L701.7 281.9L685.0 279.8L668.3 276.7L655.8 273.5L646.5 271.5L651.7 274.6L660.0 277.7L668.3 281.9L676.7 286.0L681.9 289.2L678.8 292.3L676.7 295.4L679.8 299.6L681.9 304.8L687.1 307.9L695.4 310.0L703.8 312.5L710.0 313.1L716.7 313.1L717.3 307.9L710.0 306.2L703.8 302.7L699.6 300.6L703.8 297.5L712.1 299.2L720.4 301.7L730.8 303.8L740.4 305.4"/>
<path d="M728.8 299.6L740.4 299.6"/>
<path d="M690.0 297.5L691.7 297.5L691.7 299.6L690.0 299.6Z"/>
<path d="M623.0 347.6L635.0 341.0L648.0 347.0L657.0 352.4L658.0 356.4L652.0 362.0L643.0 362.4L640.0 365.0L635.0 359.0L631.0 352.4L627.0 350.0Z"/>
<path d="M671.0 331.0L676.0 339.0L682.0 344.0L690.0 349.0L681.0 349.6L683.0 351.6L694.0 352.4L699.0 348.0L696.0 342.4L692.0 337.0L693.0 332.0L686.0 329.6L679.0 327.0L681.0 331.0L688.0 335.0L684.0 336.4L680.0 333.0L678.0 337.0L674.0 333.0Z"/>
<path d="M710.0 381.0L718.0 380.0L715.0 377.0L721.0 375.0L720.0 378.0L728.0 383.0L728.4 386.0L721.6 389.6L716.0 386.0L711.0 382.4Z"/>
<path d="M586.0 358.0L590.0 357.6L600.0 357.0L608.0 356.0L610.0 358.0L616.0 361.0L623.0 363.6L627.0 364.0L618.0 364.4L610.0 366.0L602.0 368.0L600.0 371.0L590.0 370.4"/>
<path d="M622.0 364.0L610.0 366.4L602.0 368.4L600.0 371.0L590.0 370.0L582.0 369.6L572.0 369.0L564.0 371.0L556.0 373.6L550.0 376.0L549.0 380.0L551.0 383.6L556.0 386.0L561.6 386.0L559.0 392.0L558.0 400.0L550.0 402.4L544.0 399.0L537.0 393.0L530.0 395.6L525.0 398.0L521.6 403.0L520.0 409.0L521.0 414.0L522.4 419.0L519.6 423.0L516.0 428.0L512.0 429.6L508.0 430.0L505.0 434.0L502.0 436.0L500.0 436.2"/>
<path d="M522.4 419.0L523.6 425.0L521.0 429.6L516.0 428.0"/>
<path d="M531.0 384.0L538.0 382.4L546.0 382.0L544.4 384.4L538.0 387.0L533.0 389.0Z"/>
<path d="M535.0 377.6L540.0 377.0L542.4 379.6L538.0 380.0Z"/>
<path d="M217.0 383.4L226.0 383.0L235.0 384.0L240.0 382.6L237.0 386.0L232.0 389.0L228.0 392.0L231.0 395.0L240.0 394.4L249.0 394.0L254.4 395.4L252.0 401.0L248.0 407.0L244.0 410.6L239.0 412.0L233.6 414.0L243.0 415.0L248.0 417.0L254.0 421.0L258.0 426.0L261.0 431.0L264.0 434.0L270.0 436.0L274.0 439.0L276.0 444.0L280.0 452.0L278.4 456.0L288.0 456.0L293.6 456.6L296.0 461.4L292.0 466.0L288.0 469.0L286.0 473.0L285.0 475.0L290.0 475.0L292.0 477.0L288.0 479.0L282.0 481.0L277.0 482.0L276.0 483.0L264.0 483.0L258.0 484.0L248.0 484.0L236.0 484.6L233.0 489.0L231.0 490.6L226.0 488.6L220.0 490.0L215.0 492.0L211.6 492.6L216.0 488.0L220.0 484.0L224.0 479.4L230.0 478.0L237.0 476.0L242.0 475.0L244.4 472.6L240.0 473.4L234.0 474.0L228.0 472.0L220.0 471.0L216.0 468.0L222.0 465.0L228.0 462.0L229.0 458.0L227.0 455.0L222.0 456.6L224.0 454.0L228.0 452.0L233.0 450.6L241.6 449.4L242.4 439.0L238.0 437.4L236.0 433.0L240.0 429.4L234.0 429.0L228.0 431.0L219.0 431.0L217.0 429.0L219.0 425.0L221.6 421.0L221.0 416.0L218.0 414.6L215.0 416.0L213.6 420.0L211.0 424.0L212.4 418.0L215.0 414.0L216.0 407.0L215.0 405.4L210.0 408.0L205.0 410.0L203.0 407.0L209.0 406.0L212.0 403.0L212.4 399.0L210.0 398.0L209.0 395.0L210.0 392.0L213.6 391.0L215.0 387.0Z"/>
<path d="M194.4 387.4L203.0 383.4L203.6 388.0L198.0 391.0L194.0 392.0Z"/>
<path d="M191.0 394.0L191.6 401.0"/>
<path d="M199.0 395.0L203.0 394.0L205.0 398.0L202.0 399.0Z"/>
<path d="M205.0 399.0L209.0 401.0L207.0 402.0Z"/>
<path d="M201.0 418.0L207.0 415.0L210.0 414.0L206.0 418.0L203.0 420.6Z"/>
<path d="M221.0 440.0L225.0 436.6L223.6 439.0Z"/>
<path d="M224.0 450.0L227.0 449.4L227.6 452.0L224.4 452.0Z"/>
<path d="M238.0 376.0L243.0 377.4L240.0 378.0Z"/>
<path d="M160.0 438.0L164.0 438.6L174.0 438.0L177.0 437.0L180.0 434.0L176.0 433.0L175.0 430.0L180.0 427.4L187.0 426.6L190.0 424.0L193.0 424.6L194.4 427.4L200.0 426.6L207.0 426.6L209.0 431.0L212.4 434.6L208.0 437.0L202.4 441.0L204.4 445.0L205.6 450.0L204.4 457.0L202.0 464.0L197.0 464.6L190.0 466.6L182.0 469.0L175.0 471.0L168.0 472.6L163.0 472.0L160.0 470.0"/>
<path d="M160.0 443.0L163.6 442.0L162.0 446.0L161.0 449.4L166.0 450.6L171.0 452.0L167.0 454.6L163.0 457.0L170.0 458.0L165.0 460.0L162.0 462.0"/>
<path d="M312.0 477.0L304.0 479.0L298.0 480.6L295.6 484.0L296.0 489.0L292.0 491.0L288.0 493.0"/>
<path d="M351.7 448.3L350.0 448.3L345.0 449.7L341.7 450.8L336.7 453.3L334.2 454.2L332.5 455.8L330.0 460.0L326.7 464.2L323.3 467.5L321.7 470.0L324.2 470.8L325.0 475.0L318.3 474.7L313.3 475.8L306.7 478.3L300.0 479.7L296.7 480.8L295.3 483.3L295.8 486.7L294.2 490.0L290.8 492.0L288.3 493.0"/>
<path d="M334.2 454.2L338.3 454.2L340.8 456.7L341.7 460.0L340.0 462.5L335.8 462.0L335.0 459.2L335.8 455.8"/>
<path d="M190.0 336.7L192.0 337.1"/>
<path d="M192.7 334.0L194.7 336.7L196.0 338.0"/>
<path d="M195.3 333.6L197.3 335.7L199.1 334.9"/>
<path d="M200.4 333.3L200.9 335.3"/>
<path d="M196.0 343.3L198.7 345.1L197.3 343.5Z"/>
<path d="M197.6 340.0L198.5 340.0L198.5 340.8L197.6 340.8Z"/>
<path d="M257.3 360.0L260.0 360.7L260.7 356.7L259.6 358.7"/>
<path d="M261.3 365.3L262.0 361.3L263.3 358.0L264.9 355.3L266.7 354.0"/>
<path d="M237.3 378.0L238.7 375.3L241.3 377.3L244.0 378.4L240.7 377.6Z"/>
<path d="M175.2 222.2L177.5 220.7L180.4 220.4L183.9 221.6L179.8 221.3"/>
<path d="M426.7 260.8L430.8 259.7L435.8 258.7L434.2 260.0"/>
<path d="M441.7 257.5L443.7 254.2L445.8 251.7L450.0 249.7L455.0 250.0L458.3 248.0L462.5 245.0"/>
<path d="M445.0 255.8L450.0 253.3L455.0 251.7L460.0 250.8L465.8 250.0L466.7 252.5L463.3 255.0L465.8 257.5L461.7 259.2L458.3 257.5L455.0 260.0L457.5 263.3L455.0 265.8L456.7 269.2L453.3 270.0L450.0 268.3L451.7 265.0L449.2 262.5L450.8 259.2L447.5 258.0Z"/>
<path d="M473.3 245.0L478.3 241.7L483.3 241.3L485.0 244.2L481.7 246.7L476.7 247.5Z"/>
<path d="M490.0 240.0L495.0 237.5L500.0 235.8L497.5 238.3L501.7 238.3L496.7 240.8L500.0 241.7L495.0 243.3L492.5 241.3Z"/>
<path d="M470.0 255.8L475.0 255.3L481.7 255.0"/>
<path d="M468.3 251.7L471.7 253.3L475.0 251.7"/>
<path d="M505.0 232.5L508.3 234.2L506.7 231.7"/>
<path d="M515.0 231.7L516.7 235.0L520.0 236.7L518.3 233.3"/>
<path d="M666.2 245.0L685.0 245.4" stroke="#bbb"/></g>
<g id="axes"><path d="M160.0 105.8H741.1M160.0 492.9H741.1" fill="none" stroke="#222" stroke-width="1.35"/>
<path d="M160.5 106.0V493.0M740.6 106.0V493.0" fill="none" stroke="#111" stroke-width="1"/>
<path d="M276.5 493.0v-12M276.5 106.0v12M392.5 493.0v-12M392.5 106.0v12M508.6 493.0v-12M508.6 106.0v12M624.6 493.0v-12M624.6 106.0v12M160.5 428.5h12M740.6 428.5h-12M160.5 364.0h12M740.6 364.0h-12M160.5 299.5h12M740.6 299.5h-12M160.5 235.0h12M740.6 235.0h-12M160.5 170.5h12M740.6 170.5h-12" fill="none" stroke="#111" stroke-width="1"/>
<path d="M160.5 481V493.3H172.5M728.6 493H740.6V481M160.5 117.4V105.6H172.5M728.6 105.6H740.6V117.6" fill="none" stroke="#000" stroke-width="1.5"/>
<text x="160.2" y="518.1" font-size="21.5" text-anchor="middle">−10</text>
<text x="276.8" y="518.1" font-size="21.5" text-anchor="middle">0</text>
<text x="392.8" y="518.1" font-size="21.5" text-anchor="middle">10</text>
<text x="508.9" y="518.1" font-size="21.5" text-anchor="middle">20</text>
<text x="624.9" y="518.1" font-size="21.5" text-anchor="middle">30</text>
<text x="740.9" y="518.1" font-size="21.5" text-anchor="middle">40</text>
<text transform="translate(155.6 492.5) rotate(-90)" font-size="21.5" text-anchor="middle">50</text>
<text transform="translate(155.6 428.0) rotate(-90)" font-size="21.5" text-anchor="middle">55</text>
<text transform="translate(155.6 363.5) rotate(-90)" font-size="21.5" text-anchor="middle">60</text>
<text transform="translate(155.6 299.0) rotate(-90)" font-size="21.5" text-anchor="middle">65</text>
<text transform="translate(155.6 234.5) rotate(-90)" font-size="21.5" text-anchor="middle">70</text>
<text transform="translate(155.6 170.0) rotate(-90)" font-size="21.5" text-anchor="middle">75</text>
<text transform="translate(155.6 105.5) rotate(-90)" font-size="21.5" text-anchor="middle">80</text>
<text x="322.8" y="548.4" font-size="31">Longitude</text><text x="462" y="548.4" font-size="31">(degrees)</text>
<text transform="translate(128.4 415.4) rotate(-90)" font-size="31">Latitude</text><text transform="translate(128.4 299.3) rotate(-90)" font-size="31">(degrees)</text></g>
<g id="cbar"><rect x="810" y="106.2" width="46" height="386.8" fill="url(#jet)"/>
<path d="M810 415.6h12M856 415.6h-12M810 338.2h12M856 338.2h-12M810 260.8h12M856 260.8h-12M810 183.4h12M856 183.4h-12" stroke="#000" stroke-width="1" fill="none"/>
<path d="M810 106h12M856 106h-12" stroke="#999" stroke-width="1.3" fill="none"/>
<text class="sans" transform="translate(806.2 493.6) rotate(-90) scale(0.9 1)" font-size="22" text-anchor="middle">0</text>
<text class="sans" transform="translate(806.2 416.2) rotate(-90) scale(0.9 1)" font-size="22" text-anchor="middle">1</text>
<text class="sans" transform="translate(806.2 338.8) rotate(-90) scale(0.9 1)" font-size="22" text-anchor="middle">2</text>
<text class="sans" transform="translate(806.2 261.4) rotate(-90) scale(0.9 1)" font-size="22" text-anchor="middle">3</text>
<text class="sans" transform="translate(806.2 184.0) rotate(-90) scale(0.9 1)" font-size="22" text-anchor="middle">4</text>
<text class="sans" transform="translate(806.2 106.6) rotate(-90) scale(0.9 1)" font-size="22" text-anchor="middle">5</text></g>
<g id="logo"><rect x="40.8" y="489.9" width="33.9" height="50.1" rx="2.8" fill="#2054a0"/>
<path d="M40.8 492.7A2.8 2.8 0 0 1 43.6 489.9H71.9A2.8 2.8 0 0 1 74.7 492.7V520H40.8Z" fill="#2a9348"/>
<path d="M40.8 517.6C45 515 49 514.6 53 516.2C58 518.2 61 523.4 66 523.8C69.5 524 72 523 74.7 521.8V534H40.8Z" fill="#2054a0"/>
<path d="M40.5 509.6L40.8 509.4C45 506.6 49 506.4 53 508.2C58 510.4 61 515.6 66 516.2C69.5 516.6 72 515.6 74.7 514.4V521.8C72 523 69.5 524 66 523.8C61 523.4 58 518.2 53 516.2C49 514.6 45 515 40.8 517.6Z" fill="#fff"/>
<text class="sans" x="9.7" y="561" font-size="21" textLength="99.6" lengthAdjust="spacingAndGlyphs" style="fill:#1a1a1a">Kartverket</text></g>
</svg>
</body></html>
